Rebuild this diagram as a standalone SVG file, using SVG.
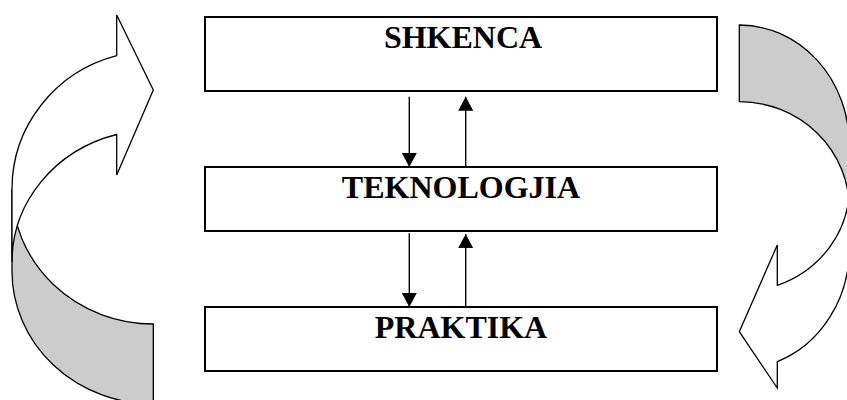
<svg xmlns="http://www.w3.org/2000/svg" width="847" height="400" viewBox="0 0 847 400">
<style>
.box{fill:#fff;stroke:#000;stroke-width:2}
.lbl{font-family:"Liberation Serif","Times New Roman",serif;font-weight:bold;font-size:32px;fill:#000;text-anchor:middle}
.back{fill:#cccccc;stroke:#000;stroke-width:1.3;stroke-linejoin:miter}
.front{fill:#fff;stroke:#000;stroke-width:1.3;stroke-linejoin:miter}
.con{stroke:#000;stroke-width:1.4;fill:none;marker-end:url(#ah)}
</style>
<defs>
<marker id="ah" markerUnits="userSpaceOnUse" viewBox="0 0 14 15" refX="14" refY="7.5" markerWidth="14" markerHeight="15" orient="auto">
<path d="M0,0 L14,7.5 L0,15 Z" fill="#000"/>
</marker>
</defs>
<g id="cycle-left">
<path class="back" d="M153.3,404 A141.3,133 0 0 1 12,271 L12,189 A141.3,135 0 0 0 153.3,324 Z"/>
<path class="front" d="M12,262 A141.3,132 0 0 1 116.7,134.5 L116.7,175 L153.3,90 L116.7,15 L116.7,55.7 A141.3,138 0 0 0 12,189 Z"/>
</g>
<g id="cycle-right">
<path class="back" d="M739.3,25 A110,120 0 0 1 849.3,145 L849.3,208.7 A110,107 0 0 0 739.3,101.7 Z"/>
<path class="front" d="M849.3,187.8 A110,104 0 0 1 777.3,285.4 L777.3,245 L739.3,331.7 L777.3,388 L777.3,361.6 A110,120 0 0 0 849.3,249 Z"/>
</g>
<g id="shkenca">
<rect class="box" x="205" y="17" width="512" height="74"/>
<text class="lbl" x="463" y="48">SHKENCA</text>
</g>
<g id="teknologjia">
<rect class="box" x="205" y="167" width="512" height="64"/>
<text class="lbl" x="461" y="198">TEKNOLOGJIA</text>
</g>
<g id="praktika">
<rect class="box" x="205" y="307" width="512" height="64"/>
<text class="lbl" x="461" y="338">PRAKTIKA</text>
</g>
<g id="connectors">
<line class="con" x1="409.3" y1="96.7" x2="409.3" y2="167"/>
<line class="con" x1="465.7" y1="167" x2="465.7" y2="96.7"/>
<line class="con" x1="409.3" y1="233.3" x2="409.3" y2="307"/>
<line class="con" x1="465.7" y1="307" x2="465.7" y2="234"/>
</g>
</svg>
